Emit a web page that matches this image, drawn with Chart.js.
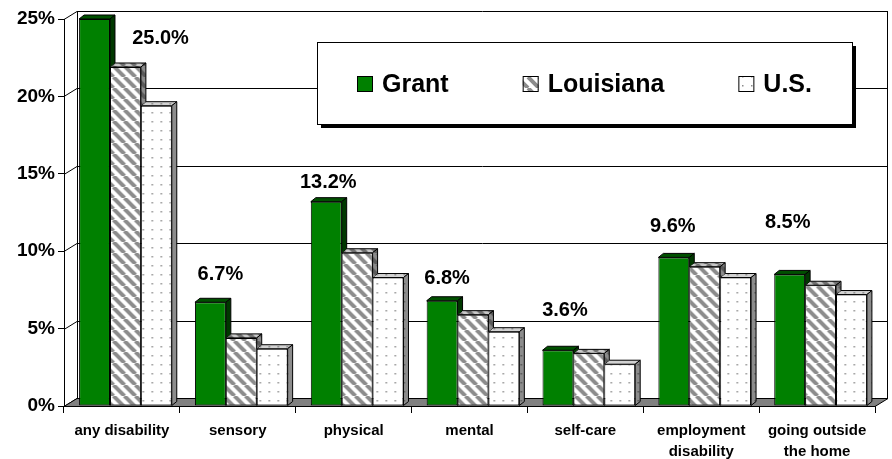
<!DOCTYPE html>
<html>
<head>
<meta charset="utf-8">
<script src="https://cdn.jsdelivr.net/npm/chart.js@4.4.1/dist/chart.umd.min.js"></script>
<style>
  html, body { margin: 0; padding: 0; background: #fff; }
  #wrap { width: 892px; height: 459px; }
</style>
</head>
<body>
<div id="wrap"><canvas id="chart" width="892" height="459"></canvas></div>
<script>
const categories = ['any disability', 'sensory', 'physical', 'mental', 'self-care', ['employment', 'disability'], ['going outside', 'the home']];
const grant = [25.0, 6.7, 13.2, 6.8, 3.6, 9.6, 8.5];
const louisiana = [21.9, 4.4, 9.9, 5.9, 3.4, 9.0, 7.8];
const us = [19.4, 3.7, 8.3, 4.8, 2.7, 8.3, 7.2];
const seriesNames = ['Grant', 'Louisiana', 'U.S.'];
const yTicks = [0, 5, 10, 15, 20, 25];

// value labels were dragged around by hand in the original, so nudge each one
const labelNudge = [[66, 19], [10, -28], [2, -19], [5, -22], [7, -40], [-1, -31], [-2, -52]];

const WALL_DX = 13, WALL_DY = 8;   // back wall offset
const BAR_DX = 5, BAR_DY = 4;      // bar depth
const BAR_SHIFT = 3.5;
const FONT = "'Liberation Sans', Arial, sans-serif";

const canvas = document.getElementById('chart');
const ctx = canvas.getContext('2d');

function stripes(bg, fg) {
    const s = 11;
    const t = document.createElement('canvas');
    t.width = t.height = s;
    const c = t.getContext('2d');
    c.fillStyle = bg;
    c.fillRect(0, 0, s, s);
    c.strokeStyle = fg;
    c.lineWidth = 4;
    c.beginPath();
    for (let o = -s; o <= s; o += s) { c.moveTo(o, 0); c.lineTo(o + s, s); }
    c.stroke();
    return ctx.createPattern(t, 'repeat');
}

function dots(bg, fg) {
    const t = document.createElement('canvas');
    t.width = t.height = 9;
    const c = t.getContext('2d');
    c.fillStyle = bg;
    c.fillRect(0, 0, 9, 9);
    c.fillStyle = fg;
    c.fillRect(4, 4, 1.5, 1.5);
    return ctx.createPattern(t, 'repeat');
}

const faces = [
    { front: '#008000', top: '#005000', side: '#003800' },
    { front: stripes('#ffffff', '#8c8c8c'), top: stripes('#c8c8c8', '#707070'), side: stripes('#8a8a8a', '#5a5a5a') },
    { front: dots('#ffffff', '#8c8c8c'), top: dots('#d2d2d2', '#808080'), side: dots('#8c8c8c', '#505050') }
];

function barBox(bar) {
    return bar.getProps(['x', 'y', 'base', 'width'], true);
}

const excel3d = {
    id: 'excel3d',
    beforeDatasetsDraw(chart) {
        const { ctx, chartArea: a, scales: { y } } = chart;
        ctx.save();
        ctx.lineWidth = 1;
        ctx.strokeStyle = '#000';
        // gridlines on the back wall + slanted ticks across the side wall
        yTicks.forEach(v => {
            const py = Math.round(y.getPixelForValue(v)) + 0.5;
            ctx.beginPath();
            ctx.moveTo(a.left, py);
            ctx.lineTo(a.left + WALL_DX, py - WALL_DY);
            ctx.lineTo(a.right + WALL_DX, py - WALL_DY);
            ctx.stroke();
        });
        ctx.beginPath();
        ctx.moveTo(a.left + WALL_DX + 0.5, a.top - WALL_DY);
        ctx.lineTo(a.left + WALL_DX + 0.5, a.bottom - WALL_DY);
        ctx.moveTo(a.right + WALL_DX - 0.5, a.top - WALL_DY);
        ctx.lineTo(a.right + WALL_DX - 0.5, a.bottom - WALL_DY);
        ctx.stroke();
        // floor
        ctx.fillStyle = '#808080';
        ctx.beginPath();
        ctx.moveTo(a.left, a.bottom + 0.5);
        ctx.lineTo(a.right, a.bottom + 0.5);
        ctx.lineTo(a.right + WALL_DX, a.bottom - WALL_DY + 0.5);
        ctx.lineTo(a.left + WALL_DX, a.bottom - WALL_DY + 0.5);
        ctx.closePath();
        ctx.fill();
        ctx.stroke();
        ctx.restore();
    },
    beforeDatasetDraw(chart) {
        chart.ctx.save();
        chart.ctx.translate(BAR_SHIFT, 0);
    },
    afterDatasetDraw(chart, args) {
        const ctx = chart.ctx;
        const f = faces[args.index];
        const nextMeta = args.index + 1 < chart.data.datasets.length ? chart.getDatasetMeta(args.index + 1) : null;
        args.meta.data.forEach((bar, k) => {
            const { x, y, base, width } = barBox(bar);
            const l = x - width / 2, r = x + width / 2;
            ctx.save();
            // the bar to the right was painted first, keep its front and top above our faces
            if (nextMeta) {
                const n = barBox(nextMeta.data[k]);
                const nl = n.x - n.width / 2, nr = n.x + n.width / 2;
                ctx.beginPath();
                ctx.rect(-20, -20, chart.width + 40, chart.height + 40);
                ctx.moveTo(nl, n.base);
                ctx.lineTo(nl, n.y);
                ctx.lineTo(nl + BAR_DX, n.y - BAR_DY);
                ctx.lineTo(nr + BAR_DX, n.y - BAR_DY);
                ctx.lineTo(nr, n.y);
                ctx.lineTo(nr, n.base);
                ctx.closePath();
                ctx.clip('evenodd');
            }
            ctx.lineWidth = 1;
            ctx.strokeStyle = '#000';
            ctx.beginPath();
            ctx.moveTo(l, y);
            ctx.lineTo(l + BAR_DX, y - BAR_DY);
            ctx.lineTo(r + BAR_DX, y - BAR_DY);
            ctx.lineTo(r, y);
            ctx.closePath();
            ctx.fillStyle = f.top;
            ctx.fill();
            ctx.stroke();
            ctx.beginPath();
            ctx.moveTo(r, y);
            ctx.lineTo(r + BAR_DX, y - BAR_DY);
            ctx.lineTo(r + BAR_DX, base - BAR_DY);
            ctx.lineTo(r, base);
            ctx.closePath();
            ctx.fillStyle = f.side;
            ctx.fill();
            ctx.stroke();
            ctx.restore();
        });
        ctx.restore();
    },
    afterDraw(chart) {
        const ctx = chart.ctx;
        ctx.save();
        // value labels for Grant only
        ctx.font = 'bold 20px ' + FONT;
        ctx.fillStyle = '#000';
        ctx.textAlign = 'center';
        ctx.textBaseline = 'middle';
        chart.getDatasetMeta(0).data.forEach((bar, k) => {
            const { x, y } = barBox(bar);
            ctx.fillText(grant[k].toFixed(1) + '%', x + BAR_SHIFT + labelNudge[k][0], y + labelNudge[k][1]);
        });
        // legend box with drop shadow
        const bx = 317, by = 42, bw = 535, bh = 82;
        ctx.fillStyle = '#000';
        ctx.fillRect(bx + 4, by + 4, bw, bh);
        ctx.fillStyle = '#fff';
        ctx.fillRect(bx, by, bw, bh);
        ctx.strokeStyle = '#000';
        ctx.lineWidth = 1;
        ctx.strokeRect(bx + 0.5, by + 0.5, bw, bh);
        ctx.font = 'bold 25px ' + FONT;
        ctx.textAlign = 'left';
        let lx = 357;
        const cy = 84;
        seriesNames.forEach((name, i) => {
            ctx.fillStyle = faces[i].front;
            ctx.fillRect(lx, cy - 8, 16, 16);
            ctx.strokeRect(lx + 0.5, cy - 7.5, 15, 15);
            ctx.fillStyle = '#000';
            ctx.fillText(name, lx + 25, cy + 1);
            lx += 25 + ctx.measureText(name).width + 74;
        });
        ctx.restore();
    }
};

const datasets = [grant, louisiana, us].map((values, i) => ({
    label: seriesNames[i],
    data: values,
    backgroundColor: faces[i].front,
    borderColor: '#000',
    borderWidth: 1,
    borderSkipped: false,
    categoryPercentage: 0.8,
    barPercentage: 1.0,
    clip: false
}));

new Chart(ctx, {
    type: 'bar',
    data: { labels: categories, datasets: datasets },
    plugins: [excel3d],
    options: {
        responsive: false,
        animation: false,
        events: [],
        layout: { padding: { top: 19, right: 17, left: 0, bottom: 0 } },
        plugins: { legend: { display: false }, tooltip: { enabled: false } },
        scales: {
            x: {
                offset: true,
                grid: { offset: true, drawOnChartArea: false, color: '#000', tickLength: 7 },
                border: { color: '#000' },
                ticks: {
                    color: '#000',
                    padding: 8,
                    maxRotation: 0,
                    autoSkip: false,
                    font: { family: FONT, size: 15, weight: 'bold', lineHeight: 1.35 }
                },
                afterFit(s) { s.height = 53; }
            },
            y: {
                min: 0,
                max: 25,
                grid: { drawOnChartArea: false, color: '#000', tickLength: 6 },
                border: { color: '#000' },
                afterBuildTicks(s) { s.ticks = yTicks.map(v => ({ value: v })); },
                ticks: {
                    color: '#000',
                    padding: 3,
                    font: { family: FONT, size: 19, weight: 'bold' },
                    callback: v => v + '%'
                },
                afterFit(s) { s.width = 64; }
            }
        }
    }
});
</script>
</body>
</html>
